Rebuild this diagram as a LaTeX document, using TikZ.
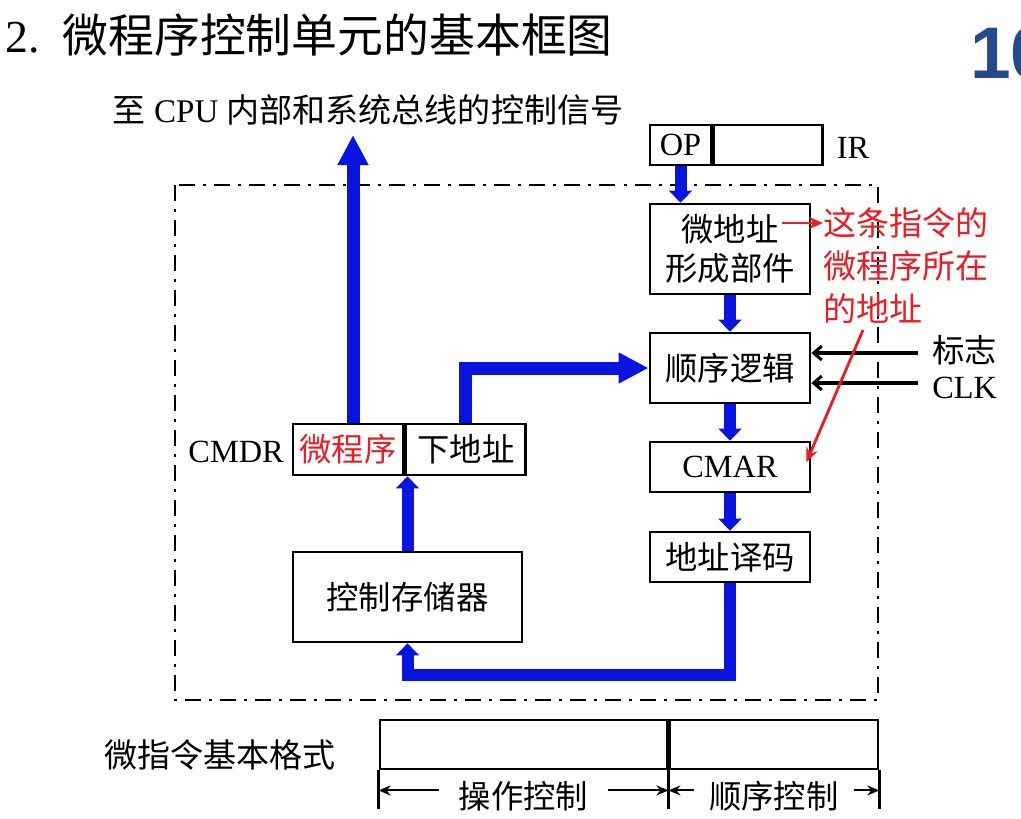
\documentclass[tikz,border=0pt]{standalone}
\usepackage{fontspec}
\setmainfont{Liberation Serif}
\newfontfamily\cjk{Noto Sans CJK SC}
\newfontfamily\numfont{Liberation Sans}
\usetikzlibrary{arrows.meta}
\definecolor{busblue}{RGB}{10,20,225}
\definecolor{notered}{RGB}{235,28,36}
\definecolor{pagenum}{RGB}{35,75,140}
\newcommand\zh[1]{{\cjk #1}}
\tikzset{
  box/.style={draw, line width=2pt, inner sep=0pt, align=center, font=\fontsize{23}{28}\selectfont},
  lbl/.style={inner sep=0pt, font=\fontsize{23}{28}\selectfont},
  bus/.style={-{Triangle[length=3mm, width=5.75mm]}, color=busblue, line width=3mm},
  bigbus/.style={-{Triangle[length=7.5mm, width=7.25mm]}, color=busblue, line width=3.25mm},
  sig/.style={-{Straight Barb[length=2mm, width=3.5mm]}, line width=2.2pt},
  notearrow/.style={-{Stealth[length=3.5mm, width=3mm]}, color=notered, line width=2pt},
  frame/.style={line width=1.5pt, dash pattern=on 4mm off 2mm on 0.75mm off 2mm},
  dim/.style={{Stealth[length=3mm, width=2.5mm]}-{Stealth[length=3mm, width=2.5mm]}, line width=1.5pt},
  tick/.style={line width=2pt},
}
\begin{document}
\begin{tikzpicture}[x=0.025cm, y=-0.025cm]
  \useasboundingbox (0,0) rectangle (1021,818);
  \node[anchor=west, inner sep=0pt, font=\fontsize{32.6}{36}\selectfont] (title) at (5,35) {2.\hspace{0.5em}\zh{微程序控制单元的基本框图}};
  \node[anchor=west, inner sep=0pt, font=\numfont\bfseries\fontsize{52}{52}\selectfont, text=pagenum] (page) at (970,53) {10};
  \node[lbl, font=\fontsize{23.5}{26}\selectfont] (out) at (368,110) {\zh{至} CPU \zh{内部和系统总线的控制信号}};

  % control unit frame
  \draw[frame] (175,185) rectangle (878,700);

  % IR
  \node[box, minimum width=15.25mm, minimum height=10mm] (op) at (680.5,145) {OP};
  \node[box, minimum width=27.25mm, minimum height=10mm, anchor=west] (irf) at (op.east) {};
  \node[lbl] (ir) at (853,148) {IR};

  \node[box, minimum width=40mm, minimum height=22.5mm] (maf) at (730,249) {\zh{微地址}\\\zh{形成部件}};
  \node[box, minimum width=40mm, minimum height=17.5mm] (seq) at (730,368) {\zh{顺序逻辑}};
  \node[box, minimum width=40mm, minimum height=12.5mm] (cmar) at (730,467) {CMAR};
  \node[box, minimum width=40mm, minimum height=12.5mm] (dec) at (730,557) {\zh{地址译码}};

  % CMDR and control store
  \node[box, minimum width=27.5mm, minimum height=12.75mm] (mp) at (348,449.5) {\textcolor{notered}{\zh{微程序}}};
  \node[box, minimum width=30mm, minimum height=12.75mm, anchor=west] (na) at (mp.east) {\zh{下地址}};
  \node[lbl, anchor=east] (cmdr) at (284,452) {CMDR};
  \node[box, minimum width=57.25mm, minimum height=22.5mm] (cm) at (407.5,597) {\zh{控制存储器}};

  % flag and clock
  \node[lbl, anchor=west] (flag) at (932,350) {\zh{标志}};
  \node[lbl, anchor=west] (clk) at (932,388) {CLK};
  \coordinate (flagin) at (918,353);
  \coordinate (clkin) at (918,383);
  \draw[sig] (flagin) -- (flagin -| seq.east);
  \draw[sig] (clkin) -- (clkin -| seq.east);

  % buses
  \draw[bus] (op.south) -- (op.south |- maf.north);
  \draw[bus] (maf) -- (seq);
  \draw[bus] (seq) -- (cmar);
  \draw[bus] (cmar) -- (dec);
  \coordinate (back) at (407.5,675);
  \draw[bus] (dec.south) |- (back) -- (cm.south);
  \draw[bus] (cm.north) -- (cm.north |- mp.south);
  \coordinate (ctrl) at (353,135);
  \draw[bigbus] (ctrl |- mp.north) -- (ctrl);
  \draw[bigbus] (na.north) |- (seq.west);

  % red note
  \node[anchor=north west, inner sep=0pt, align=left, text=notered, font=\cjk\fontsize{23.5}{30.5}\selectfont] (note) at (823,207) {这条指令的\\微程序所在\\的地址};
  \coordinate (mafend) at (782,223);
  \draw[notearrow] (mafend) -- (note.west |- mafend);
  \coordinate (tail) at (863,330);
  \draw[notearrow] (tail) -- ([xshift=-1.25mm, yshift=1.25mm]cmar.east);

  % microinstruction format
  \node[lbl, font=\cjk\fontsize{23.5}{28}\selectfont] (fmt) at (220,755) {微指令基本格式};
  \node[box, minimum width=71.75mm, minimum height=12.25mm] (opf) at (523.5,744.5) {};
  \node[box, minimum width=52mm, minimum height=12.25mm, anchor=west] (sqf) at (opf.east) {};
  \foreach \a in {opf.south west, opf.south east, sqf.south east}
    \draw[tick] (\a) -- ++(0,39);
  \draw[dim] ([yshift=-5mm]opf.south west) -- ([yshift=-5mm]opf.south east)
    node[midway, fill=white, inner xsep=5mm, inner ysep=0pt, yshift=-1.5mm, font=\cjk\fontsize{23}{28}\selectfont] (opc) {操作控制};
  \draw[dim] ([yshift=-5mm]sqf.south west) -- ([yshift=-5mm]sqf.south east)
    node[midway, fill=white, inner xsep=3.75mm, inner ysep=0pt, yshift=-1.5mm, font=\cjk\fontsize{23}{28}\selectfont] (sqc) {顺序控制};
\end{tikzpicture}
\end{document}
